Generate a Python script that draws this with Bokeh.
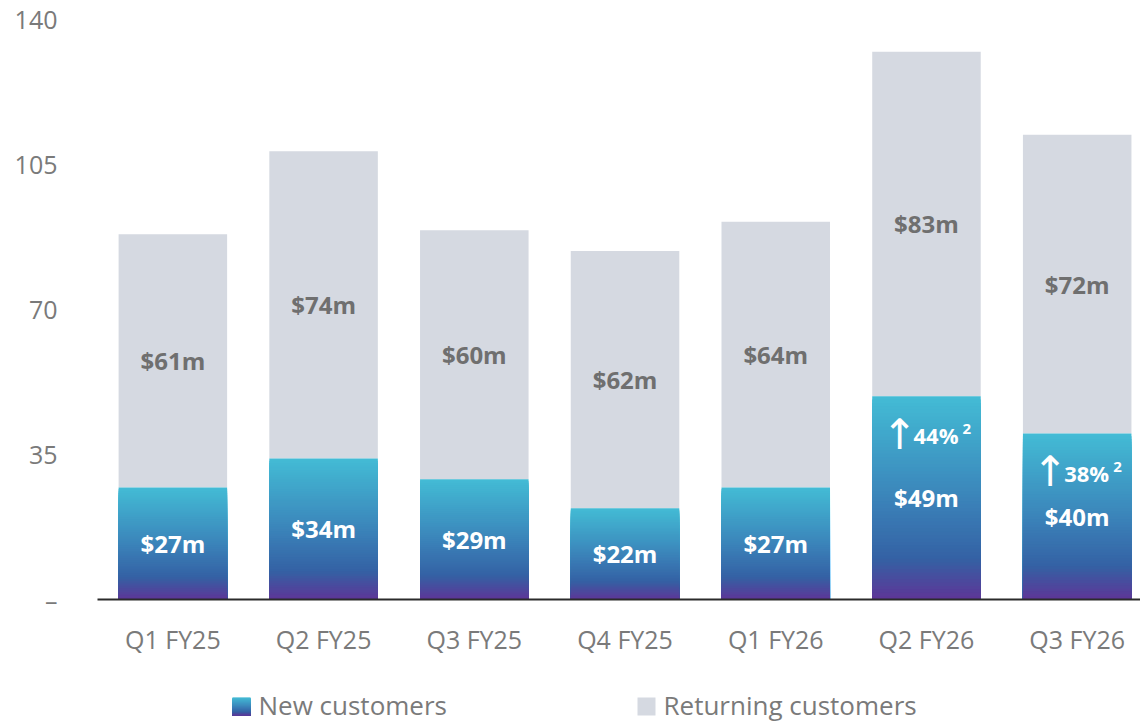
import numpy as np
from bokeh.plotting import figure
from bokeh.models import Range1d, FixedTicker
from bokeh.layouts import column
from bokeh.embed import file_html
from bokeh.resources import INLINE
from bokeh.core.properties import value

# ---------------- data ----------------
quarters = ["Q1 FY25", "Q2 FY25", "Q3 FY25", "Q4 FY25", "Q1 FY26", "Q2 FY26", "Q3 FY26"]
new_customers = [27, 34, 29, 22, 27, 49, 40]
returning_customers = [61, 74, 60, 62, 64, 83, 72]
y_ticks = [0, 35, 70, 105, 140]
growth_quarters = ["Q2 FY26", "Q3 FY26"]
growth_labels = ["44%", "38%"]
growth_note = "2"
series_names = ["New customers", "Returning customers"]

# ---------------- style ----------------
FONT = "Open Sans"
GREY_TXT = "#7a7a7a"
RET_COLOR = "#d5d9e1"
RET_LABEL = "#6f6f6f"
STOPS = [(0.0, (67, 188, 213)), (0.5, (59, 132, 186)), (0.8, (52, 97, 164)), (1.0, (94, 53, 151))]
BAR_W = 0.72
N_SLICES = 60


def grad(t):
    for (t0, c0), (t1, c1) in zip(STOPS[:-1], STOPS[1:]):
        if t <= t1:
            f = (t - t0) / (t1 - t0)
            c = [round(a + (b - a) * f) for a, b in zip(c0, c1)]
            return "#%02x%02x%02x" % tuple(c)
    return "#%02x%02x%02x" % STOPS[-1][1]


xi = list(range(len(quarters)))  # category positions on the x scale

W1, H1 = 1140, 661
p = figure(width=W1, height=H1, x_range=Range1d(-0.5, 6.42), y_range=Range1d(0, 140),
           toolbar_location=None, output_backend="svg",
           min_border_left=97, min_border_right=0, min_border_top=18, min_border_bottom=62)
p.outline_line_color = None
p.xgrid.visible = False
p.ygrid.visible = False
p.background_fill_color = "white"
p.border_fill_color = "white"

# returning customers (top of stack)
tops = [n + r for n, r in zip(new_customers, returning_customers)]
p.vbar(x=xi, bottom=new_customers, top=tops, width=BAR_W,
       fill_color=RET_COLOR, line_color=None)

# new customers: vertical gradient built from layered bars (tallest first)
gx, gtop, gcol = [], [], []
for k in range(N_SLICES):
    frac = (N_SLICES - k) / N_SLICES
    col = grad((k + 0.5) / N_SLICES)
    for i, n in zip(xi, new_customers):
        gx.append(i)
        gtop.append(n * frac)
        gcol.append(col)
p.vbar(x=gx, bottom=0, top=gtop, width=BAR_W, fill_color=gcol, line_color=None)

# value labels
p.text(x=xi, y=[n / 2 for n in new_customers], text=[f"${n}m" for n in new_customers],
       text_align="center", text_baseline="middle", text_font=value(FONT),
       text_font_style="bold", text_font_size="24px", text_color="white")
p.text(x=xi, y=[n + r / 2 for n, r in zip(new_customers, returning_customers)],
       text=[f"${r}m" for r in returning_customers],
       text_align="center", text_baseline="middle", text_font=value(FONT),
       text_font_style="bold", text_font_size="24px", text_color=RET_LABEL)

# growth annotations
g_x = [quarters.index(q) for q in growth_quarters]
g_y = [new_customers[i] for i in g_x]
p.text(x=g_x, y=g_y, text=["\u2191"] * len(g_x), x_offset=-27, y_offset=38,
       text_align="center", text_baseline="middle", text_font=value("DejaVu Sans"),
       text_font_size="42px", text_color="white")
p.text(x=g_x, y=g_y, text=growth_labels, x_offset=-13, y_offset=39,
       text_align="left", text_baseline="middle", text_font=value(FONT),
       text_font_style="bold", text_font_size="22px", text_color="white")
p.text(x=g_x, y=g_y, text=[growth_note] * len(g_x), x_offset=36, y_offset=33,
       text_align="left", text_baseline="middle", text_font=value(FONT),
       text_font_style="bold", text_font_size="15px", text_color="white")

# axes
p.yaxis.ticker = FixedTicker(ticks=y_ticks)
p.yaxis.major_label_overrides = {0: "\u2013"}
p.yaxis.axis_line_color = None
p.yaxis.major_tick_line_color = None
p.yaxis.minor_tick_line_color = None
p.yaxis.major_tick_out = 0
p.yaxis.minor_tick_out = 0
p.yaxis.major_label_standoff = 40
p.yaxis.major_label_text_font = FONT
p.yaxis.major_label_text_font_size = "25px"
p.yaxis.major_label_text_color = GREY_TXT

p.xaxis.ticker = FixedTicker(ticks=xi)
p.xaxis.major_label_overrides = {i: q for i, q in zip(xi, quarters)}
p.xaxis.axis_line_color = "#2b2b2b"
p.xaxis.axis_line_width = 2
p.xaxis.major_tick_line_color = None
p.xaxis.minor_tick_line_color = None
p.xaxis.major_tick_out = 0
p.xaxis.minor_tick_out = 0
p.xaxis.major_label_standoff = 22
p.xaxis.major_label_text_font = FONT
p.xaxis.major_label_text_font_size = "25px"
p.xaxis.major_label_text_color = GREY_TXT

# ---------------- legend strip ----------------
W2, H2 = 1140, 63
LX0 = 97
lg = figure(width=W2, height=H2, x_range=Range1d(LX0, W2), y_range=Range1d(0, H2),
            toolbar_location=None, output_backend="svg", x_axis_type=None, y_axis_type=None,
            min_border_left=LX0, min_border_right=0, min_border_top=0, min_border_bottom=0)
lg.outline_line_color = None
lg.xgrid.visible = False
lg.ygrid.visible = False

sq = 18
yc = 18
sq_x = [232, 637]
# gradient swatch
lx, ltop, lcol = [], [], []
for k in range(N_SLICES):
    frac = (N_SLICES - k) / N_SLICES
    lx.append(sq_x[0] + sq / 2)
    ltop.append(yc - sq / 2 + sq * frac)
    lcol.append(grad((k + 0.5) / N_SLICES))
lg.vbar(x=lx, bottom=yc - sq / 2, top=ltop, width=sq, fill_color=lcol, line_color=None)
lg.rect(x=[sq_x[1] + sq / 2], y=[yc], width=sq, height=sq, fill_color=RET_COLOR, line_color=None)
lg.text(x=[x + sq + 8 for x in sq_x], y=[yc + 2, yc + 2], text=series_names,
        text_align="left", text_baseline="middle", text_font=value(FONT),
        text_font_size="26px", text_color=GREY_TXT)

layout = column(p, lg, spacing=0)
open("out.html", "w").write(file_html(layout, INLINE))
